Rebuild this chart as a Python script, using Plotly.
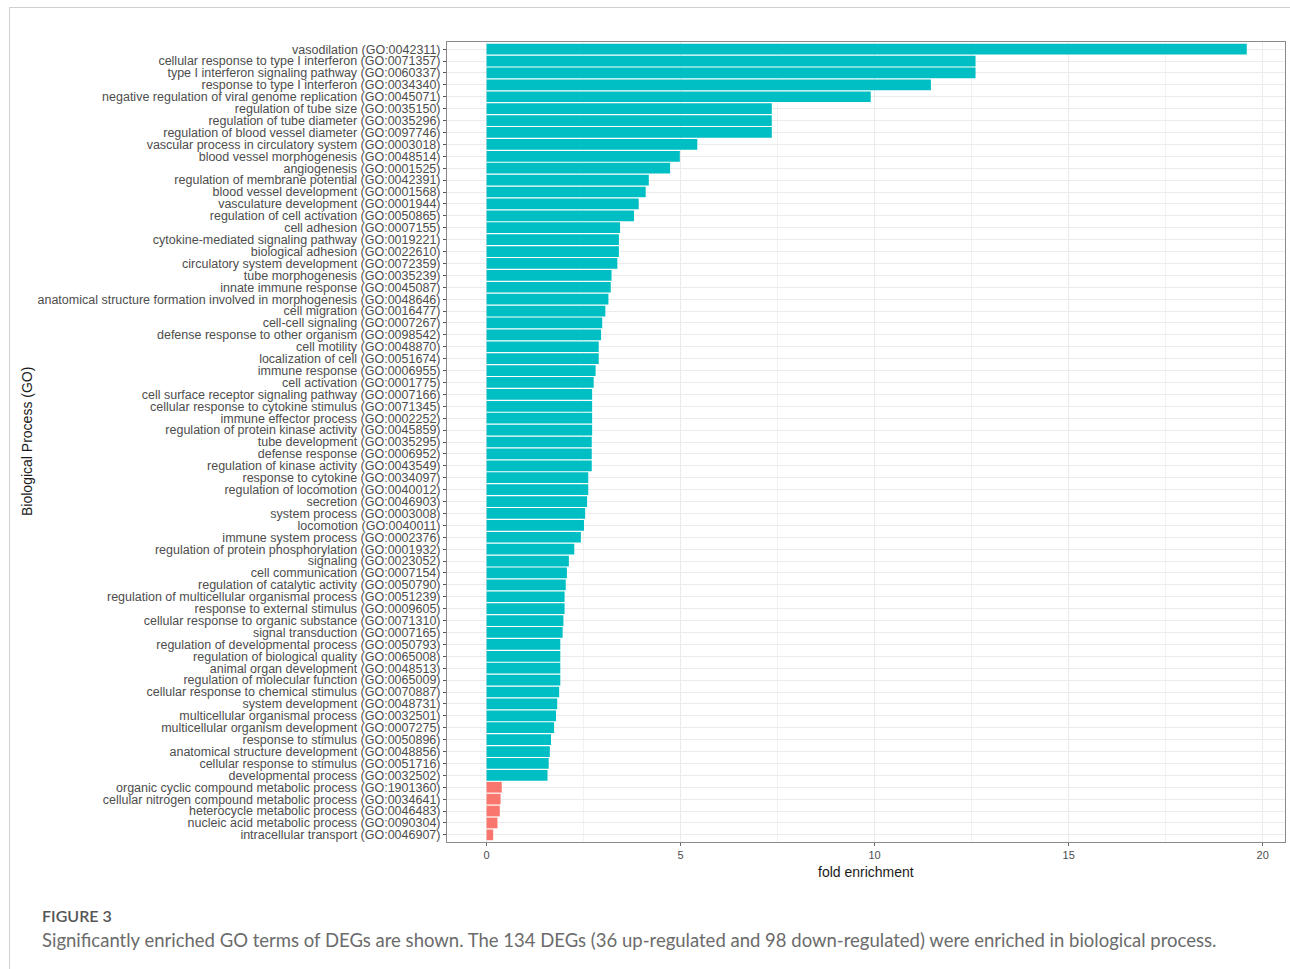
import plotly.graph_objects as go

# GO biological process terms with fold enrichment > 1 (over-represented)
over_terms = [
    "vasodilation (GO:0042311)",
    "cellular response to type I interferon (GO:0071357)",
    "type I interferon signaling pathway (GO:0060337)",
    "response to type I interferon (GO:0034340)",
    "negative regulation of viral genome replication (GO:0045071)",
    "regulation of tube size (GO:0035150)",
    "regulation of tube diameter (GO:0035296)",
    "regulation of blood vessel diameter (GO:0097746)",
    "vascular process in circulatory system (GO:0003018)",
    "blood vessel morphogenesis (GO:0048514)",
    "angiogenesis (GO:0001525)",
    "regulation of membrane potential (GO:0042391)",
    "blood vessel development (GO:0001568)",
    "vasculature development (GO:0001944)",
    "regulation of cell activation (GO:0050865)",
    "cell adhesion (GO:0007155)",
    "cytokine-mediated signaling pathway (GO:0019221)",
    "biological adhesion (GO:0022610)",
    "circulatory system development (GO:0072359)",
    "tube morphogenesis (GO:0035239)",
    "innate immune response (GO:0045087)",
    "anatomical structure formation involved in morphogenesis (GO:0048646)",
    "cell migration (GO:0016477)",
    "cell-cell signaling (GO:0007267)",
    "defense response to other organism (GO:0098542)",
    "cell motility (GO:0048870)",
    "localization of cell (GO:0051674)",
    "immune response (GO:0006955)",
    "cell activation (GO:0001775)",
    "cell surface receptor signaling pathway (GO:0007166)",
    "cellular response to cytokine stimulus (GO:0071345)",
    "immune effector process (GO:0002252)",
    "regulation of protein kinase activity (GO:0045859)",
    "tube development (GO:0035295)",
    "defense response (GO:0006952)",
    "regulation of kinase activity (GO:0043549)",
    "response to cytokine (GO:0034097)",
    "regulation of locomotion (GO:0040012)",
    "secretion (GO:0046903)",
    "system process (GO:0003008)",
    "locomotion (GO:0040011)",
    "immune system process (GO:0002376)",
    "regulation of protein phosphorylation (GO:0001932)",
    "signaling (GO:0023052)",
    "cell communication (GO:0007154)",
    "regulation of catalytic activity (GO:0050790)",
    "regulation of multicellular organismal process (GO:0051239)",
    "response to external stimulus (GO:0009605)",
    "cellular response to organic substance (GO:0071310)",
    "signal transduction (GO:0007165)",
    "regulation of developmental process (GO:0050793)",
    "regulation of biological quality (GO:0065008)",
    "animal organ development (GO:0048513)",
    "regulation of molecular function (GO:0065009)",
    "cellular response to chemical stimulus (GO:0070887)",
    "system development (GO:0048731)",
    "multicellular organismal process (GO:0032501)",
    "multicellular organism development (GO:0007275)",
    "response to stimulus (GO:0050896)",
    "anatomical structure development (GO:0048856)",
    "cellular response to stimulus (GO:0051716)",
    "developmental process (GO:0032502)",
]
over_fold = [
    19.59, 12.60, 12.60, 11.45, 9.90, 7.35, 7.35, 7.35, 5.43, 4.98,
    4.73, 4.18, 4.10, 3.92, 3.80, 3.44, 3.41, 3.41, 3.37, 3.22,
    3.20, 3.14, 3.06, 2.98, 2.95, 2.89, 2.89, 2.81, 2.76, 2.72,
    2.72, 2.72, 2.72, 2.71, 2.71, 2.71, 2.62, 2.62, 2.59, 2.54,
    2.51, 2.43, 2.26, 2.12, 2.07, 2.04, 2.01, 2.01, 1.98, 1.96,
    1.90, 1.90, 1.90, 1.90, 1.87, 1.82, 1.79, 1.74, 1.66, 1.63,
    1.60, 1.57,
]

# GO biological process terms with fold enrichment < 1 (under-represented)
under_terms = [
    "organic cyclic compound metabolic process (GO:1901360)",
    "cellular nitrogen compound metabolic process (GO:0034641)",
    "heterocycle metabolic process (GO:0046483)",
    "nucleic acid metabolic process (GO:0090304)",
    "intracellular transport (GO:0046907)",
]
under_fold = [0.39, 0.36, 0.34, 0.28, 0.17]

x_ticks = [0, 5, 10, 15, 20]

TEAL = "#00BFC4"
SALMON = "#F8766D"

W, H = 1290, 969
# plotting panel in page pixels
PL, PR, PT, PB = 447, 1285, 42, 842


def px_x(px):
    return (px - PL) / (PR - PL)


def px_y(py):
    return (PB - py) / (PB - PT)


all_terms = over_terms + under_terms

fig = go.Figure()
fig.add_trace(go.Bar(
    x=over_fold, y=over_terms, orientation="h",
    marker=dict(color=TEAL, line=dict(width=0)),
    showlegend=False, hoverinfo="x+y",
))
fig.add_trace(go.Bar(
    x=under_fold, y=under_terms, orientation="h",
    marker=dict(color=SALMON, line=dict(width=0)),
    showlegend=False, hoverinfo="x+y",
))

n = len(all_terms)

fig.update_layout(
    width=W, height=H,
    margin=dict(l=PL, r=W - PR, t=PT, b=H - PB, pad=0),
    paper_bgcolor="white", plot_bgcolor="white",
    bargap=0.1, barmode="overlay",
    font=dict(family="Liberation Sans, Arial, sans-serif", color="#4d4d4d", size=11),
    xaxis=dict(
        range=[-1.02, 20.575],
        tickvals=x_ticks, ticktext=[str(v) for v in x_ticks],
        showgrid=True, gridcolor="#ebebeb", gridwidth=1.1,
        minor=dict(tick0=2.5, dtick=5, showgrid=True, gridcolor="#f2f2f2", gridwidth=0.6),
        zeroline=False,
        showline=True, mirror=True, linecolor="#8a8a8a", linewidth=1,
        ticks="outside", ticklen=3, tickcolor="#666666",
        tickfont=dict(size=11, color="#4d4d4d"),
    ),
    yaxis=dict(
        categoryorder="array", categoryarray=all_terms,
        tickmode="array", tickvals=all_terms, ticktext=all_terms,
        range=[n - 0.4, -0.6],
        showgrid=True, gridcolor="#ebebeb", gridwidth=1.1,
        zeroline=False,
        showline=True, mirror=True, linecolor="#8a8a8a", linewidth=1,
        ticks="outside", ticklen=3, tickcolor="#555555",
        tickfont=dict(family="Liberation Sans, Arial, sans-serif", size=12.5, color="#4d4d4d"),
    ),
)

# outer figure frame (top and left rules)
frame_color = "#cfcfcf"
fig.add_shape(type="line", xref="paper", yref="paper",
              x0=px_x(9.5), x1=px_x(W), y0=px_y(7.5), y1=px_y(7.5),
              line=dict(color=frame_color, width=1))
fig.add_shape(type="line", xref="paper", yref="paper",
              x0=px_x(9.5), x1=px_x(9.5), y0=px_y(7.5), y1=px_y(H),
              line=dict(color=frame_color, width=1))

# axis titles
fig.add_annotation(text="fold enrichment", xref="paper", yref="paper",
                   x=px_x(866), y=px_y(872), xanchor="center", yanchor="middle",
                   showarrow=False,
                   font=dict(family="Liberation Sans, Arial, sans-serif", size=14, color="#1a1a1a"))
fig.add_annotation(text="Biological Process (GO)", xref="paper", yref="paper",
                   x=px_x(27), y=px_y(442), xanchor="center", yanchor="middle",
                   textangle=-90, showarrow=False,
                   font=dict(family="Liberation Sans, Arial, sans-serif", size=14, color="#1a1a1a"))

# figure caption
fig.add_annotation(text="FIGURE 3", xref="paper", yref="paper",
                   x=px_x(40), y=px_y(915), xanchor="left", yanchor="middle",
                   showarrow=False,
                   font=dict(family="Lato, sans-serif", size=16, color="#555555", weight=600))
fig.add_annotation(
    text="Significantly enriched GO terms of DEGs are shown. The 134 DEGs (36 up-regulated and 98 down-regulated) were enriched in biological process.",
    xref="paper", yref="paper",
    x=px_x(40), y=px_y(940), xanchor="left", yanchor="middle",
    showarrow=False,
    font=dict(family="Lato, sans-serif", size=18.5, color="#6b6b6b"))

fig.write_html("out.html")
